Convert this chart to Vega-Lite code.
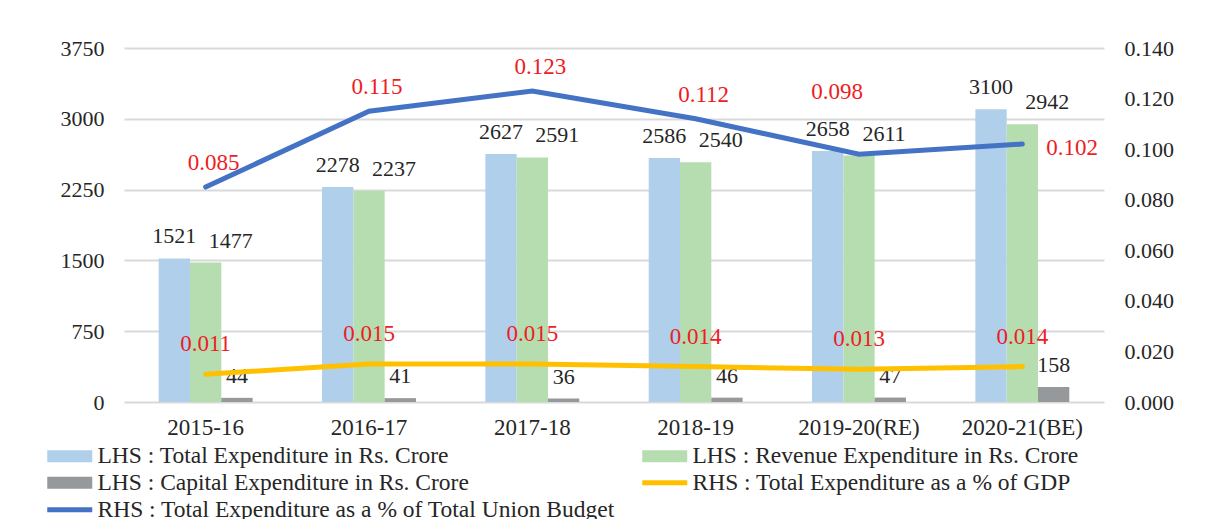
{
  "$schema": "https://vega.github.io/schema/vega-lite/v6.json",
  "width": 980,
  "height": 354,
  "autosize": {"type": "none"},
  "padding": {"left": 124, "top": 48, "right": 102, "bottom": 117},
  "background": "#ffffff",
  "config": {
    "view": {"stroke": null},
    "font": "Liberation Serif",
    "axis": {"labelFont": "Liberation Serif", "labelColor": "#262626", "titleFont": "Liberation Serif"},
    "legend": {"labelFont": "Liberation Serif"}
  },
  "data": {
    "values": [
      {"year": "2015-16", "series": "LHS : Total Expenditure in Rs. Crore", "value": 1521},
      {"year": "2016-17", "series": "LHS : Total Expenditure in Rs. Crore", "value": 2278},
      {"year": "2017-18", "series": "LHS : Total Expenditure in Rs. Crore", "value": 2627},
      {"year": "2018-19", "series": "LHS : Total Expenditure in Rs. Crore", "value": 2586},
      {"year": "2019-20(RE)", "series": "LHS : Total Expenditure in Rs. Crore", "value": 2658},
      {"year": "2020-21(BE)", "series": "LHS : Total Expenditure in Rs. Crore", "value": 3100},
      {"year": "2015-16", "series": "LHS : Revenue  Expenditure in Rs. Crore", "value": 1477},
      {"year": "2016-17", "series": "LHS : Revenue  Expenditure in Rs. Crore", "value": 2237},
      {"year": "2017-18", "series": "LHS : Revenue  Expenditure in Rs. Crore", "value": 2591},
      {"year": "2018-19", "series": "LHS : Revenue  Expenditure in Rs. Crore", "value": 2540},
      {"year": "2019-20(RE)", "series": "LHS : Revenue  Expenditure in Rs. Crore", "value": 2611},
      {"year": "2020-21(BE)", "series": "LHS : Revenue  Expenditure in Rs. Crore", "value": 2942},
      {"year": "2015-16", "series": "LHS : Capital Expenditure in Rs. Crore", "value": 44},
      {"year": "2016-17", "series": "LHS : Capital Expenditure in Rs. Crore", "value": 41},
      {"year": "2017-18", "series": "LHS : Capital Expenditure in Rs. Crore", "value": 36},
      {"year": "2018-19", "series": "LHS : Capital Expenditure in Rs. Crore", "value": 46},
      {"year": "2019-20(RE)", "series": "LHS : Capital Expenditure in Rs. Crore", "value": 47},
      {"year": "2020-21(BE)", "series": "LHS : Capital Expenditure in Rs. Crore", "value": 158},
      {"year": "2015-16", "series": "RHS : Total Expenditure as a % of GDP", "value": 0.011},
      {"year": "2016-17", "series": "RHS : Total Expenditure as a % of GDP", "value": 0.015},
      {"year": "2017-18", "series": "RHS : Total Expenditure as a % of GDP", "value": 0.015},
      {"year": "2018-19", "series": "RHS : Total Expenditure as a % of GDP", "value": 0.014},
      {"year": "2019-20(RE)", "series": "RHS : Total Expenditure as a % of GDP", "value": 0.013},
      {"year": "2020-21(BE)", "series": "RHS : Total Expenditure as a % of GDP", "value": 0.014},
      {"year": "2015-16", "series": "RHS : Total Expenditure as a % of Total Union Budget", "value": 0.085},
      {"year": "2016-17", "series": "RHS : Total Expenditure as a % of Total Union Budget", "value": 0.115},
      {"year": "2017-18", "series": "RHS : Total Expenditure as a % of Total Union Budget", "value": 0.123},
      {"year": "2018-19", "series": "RHS : Total Expenditure as a % of Total Union Budget", "value": 0.112},
      {"year": "2019-20(RE)", "series": "RHS : Total Expenditure as a % of Total Union Budget", "value": 0.098},
      {"year": "2020-21(BE)", "series": "RHS : Total Expenditure as a % of Total Union Budget", "value": 0.102}
    ]
  },
  "encoding": {
    "x": {
      "field": "year", "type": "nominal",
      "scale": {"domain": ["2015-16", "2016-17", "2017-18", "2018-19", "2019-20(RE)", "2020-21(BE)"], "paddingInner": 0.425, "paddingOuter": 0.2125},
      "axis": {"title": null, "labelAngle": 0, "labelFontSize": 23, "labelPadding": 14, "ticks": false, "domain": false}
    }
  },
  "layer": [
    {
      "transform": [{"filter": "indexof(datum.series, 'LHS') === 0"}],
      "encoding": {
        "xOffset": {"field": "series", "type": "nominal", "scale": {"domain": ["LHS : Total Expenditure in Rs. Crore", "LHS : Revenue  Expenditure in Rs. Crore", "LHS : Capital Expenditure in Rs. Crore"], "paddingInner": 0, "paddingOuter": 0}},
        "y": {"field": "value", "type": "quantitative", "scale": {"domain": [0, 3750], "nice": false},
          "axis": {"title": null, "values": [0, 750, 1500, 2250, 3000, 3750], "format": "d", "labelFontSize": 22, "labelPadding": 20, "ticks": false, "domain": false, "grid": true, "gridColor": "#D9D9D9", "gridWidth": 2}}
      },
      "layer": [
        {
          "mark": {"type": "bar"},
          "encoding": {
            "color": {
              "field": "series", "type": "nominal",
              "scale": {
                "domain": ["LHS : Total Expenditure in Rs. Crore", "LHS : Revenue  Expenditure in Rs. Crore", "LHS : Capital Expenditure in Rs. Crore", "RHS : Total Expenditure as a % of GDP", "RHS : Total Expenditure as a % of Total Union Budget"],
                "range": ["#AFCFEB", "#B6DDB0", "#96999B", "#FFC000", "#4472C4"]
              },
              "legend": {
                "orient": "none", "legendX": -66, "legendY": 396, "direction": "horizontal", "columns": 2, "columnPadding": 26, "rowPadding": 2,
                "title": null, "symbolType": "M-3.75,-1H3.75V1H-3.75Z", "symbolSize": 144, "symbolStrokeWidth": 0,
                "labelFont": "Liberation Serif", "labelFontSize": 23.5, "labelColor": "#262626", "labelLimit": 800, "labelOffset": 16,
                "encode": {"symbols": {"update": {"shape": {"signal": "indexof(datum.value, 'RHS') === 0 ? 'M-3.75,-0.4H3.75V0.4H-3.75Z' : 'M-3.75,-1H3.75V1H-3.75Z'"}}}}
              }
            }
          }
        },
        {
          "transform": [{"filter": "datum.series !== 'LHS : Revenue  Expenditure in Rs. Crore'"}],
          "mark": {"type": "text", "font": "Liberation Serif", "fontSize": 22, "color": "#262626", "baseline": "middle", "dy": -22},
          "encoding": {"text": {"field": "value", "type": "quantitative", "format": "d"}}
        },
        {
          "transform": [{"filter": "datum.series === 'LHS : Revenue  Expenditure in Rs. Crore'"}],
          "mark": {"type": "text", "font": "Liberation Serif", "fontSize": 22, "color": "#262626", "baseline": "middle", "dy": -22, "dx": 25},
          "encoding": {"text": {"field": "value", "type": "quantitative", "format": "d"}}
        }
      ]
    },
    {
      "transform": [{"filter": "indexof(datum.series, 'RHS') === 0"}],
      "encoding": {
        "y": {"field": "value", "type": "quantitative", "scale": {"domain": [0, 0.14], "nice": false},
          "axis": {"orient": "right", "title": null, "values": [0, 0.02, 0.04, 0.06, 0.08, 0.1, 0.12, 0.14], "format": ".3f", "labelFontSize": 22, "labelPadding": 20, "ticks": false, "domain": false, "grid": false}}
      },
      "layer": [
        {
          "transform": [{"filter": "datum.series === 'RHS : Total Expenditure as a % of GDP'"}],
          "mark": {"type": "line", "color": "#FFC000", "strokeWidth": 5, "strokeCap": "round"}
        },
        {
          "transform": [{"filter": "datum.series === 'RHS : Total Expenditure as a % of Total Union Budget'"}],
          "mark": {"type": "line", "color": "#4472C4", "strokeWidth": 5, "strokeCap": "round"}
        },
        {
          "transform": [{"filter": "datum.series === 'RHS : Total Expenditure as a % of GDP'"}],
          "mark": {"type": "text", "font": "Liberation Serif", "fontSize": 23, "color": "#EE1C25", "baseline": "middle", "dy": -30},
          "encoding": {"text": {"field": "value", "type": "quantitative", "format": ".3f"}}
        },
        {
          "transform": [{"filter": "datum.series === 'RHS : Total Expenditure as a % of Total Union Budget' && datum.year !== '2019-20(RE)' && datum.year !== '2020-21(BE)'"}],
          "mark": {"type": "text", "font": "Liberation Serif", "fontSize": 23, "color": "#EE1C25", "baseline": "middle", "dy": -24, "dx": 8},
          "encoding": {"text": {"field": "value", "type": "quantitative", "format": ".3f"}}
        },
        {
          "transform": [{"filter": "datum.series === 'RHS : Total Expenditure as a % of Total Union Budget' && datum.year === '2019-20(RE)'"}],
          "mark": {"type": "text", "font": "Liberation Serif", "fontSize": 23, "color": "#EE1C25", "baseline": "middle", "dy": -62, "dx": -22},
          "encoding": {"text": {"field": "value", "type": "quantitative", "format": ".3f"}}
        },
        {
          "transform": [{"filter": "datum.series === 'RHS : Total Expenditure as a % of Total Union Budget' && datum.year === '2020-21(BE)'"}],
          "mark": {"type": "text", "font": "Liberation Serif", "fontSize": 23, "color": "#EE1C25", "baseline": "middle", "align": "left", "dy": 4, "dx": 24},
          "encoding": {"text": {"field": "value", "type": "quantitative", "format": ".3f"}}
        }
      ]
    }
  ],
  "resolve": {"scale": {"y": "independent"}, "axis": {"y": "independent"}}
}
